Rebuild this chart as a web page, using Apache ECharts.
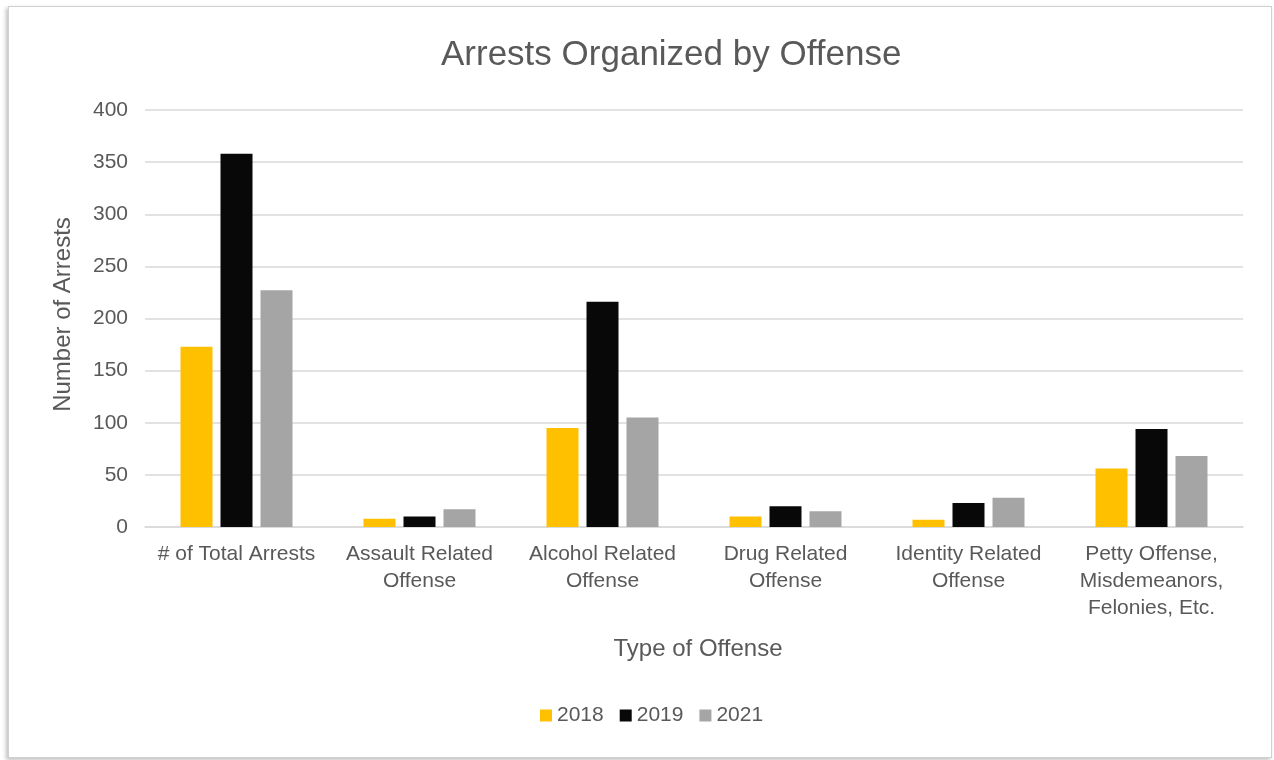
<!DOCTYPE html>
<html>
<head>
<meta charset="utf-8">
<script src="https://cdn.jsdelivr.net/npm/echarts@6/dist/echarts.min.js"></script>
<style>
  html, body { margin: 0; padding: 0; background: #ffffff; }
  #frame { position: absolute; left: 8px; top: 6px; width: 1262px; height: 750px; border: 1px solid #d0d0d0; box-shadow: -2px 2px 4px rgba(0,0,0,0.25); background: #fff; }
  #chart { position: absolute; left: 0; top: 0; width: 1274px; height: 760px; }
</style>
</head>
<body>
<div id="frame"></div>
<div id="chart"></div>
<script>
const categories = [
  '# of Total Arrests',
  'Assault Related\nOffense',
  'Alcohol Related\nOffense',
  'Drug Related\nOffense',
  'Identity Related\nOffense',
  'Petty Offense,\nMisdemeanors,\nFelonies, Etc.'
];
const seriesNames = ['2018', '2019', '2021'];
const values2018 = [173, 8, 95, 10, 7, 56];
const values2019 = [358, 10, 216, 20, 23, 94];
const values2021 = [227, 17, 105, 15, 28, 68];
const colors = ['#FFC000', '#080808', '#A5A5A5'];
const yTicks = { min: 0, max: 400, interval: 50 };

const chart = echarts.init(document.getElementById('chart'), null, { renderer: 'canvas' });
const font = 'Liberation Sans, Arial, Helvetica, sans-serif';
const textColor = '#595959';
const allValues = [values2018, values2019, values2021];

chart.setOption({
  backgroundColor: 'transparent',
  animation: false,
  textStyle: { fontFamily: font },
  title: {
    text: 'Arrests Organized by Offense',
    left: 441,
    top: 38,
    padding: 0,
    textStyle: { fontSize: 35, fontWeight: 'normal', color: textColor, fontFamily: font }
  },
  legend: {
    data: seriesNames,
    top: 700,
    left: 535,
    itemWidth: 12,
    itemHeight: 12,
    itemGap: 16,
    icon: 'rect',
    textStyle: { fontSize: 21, color: textColor, fontFamily: font }
  },
  grid: { left: 145, right: 31, top: 110, bottom: 233, containLabel: false },
  xAxis: {
    type: 'category',
    data: categories,
    name: 'Type of Offense',
    nameLocation: 'middle',
    nameGap: 110,
    nameTextStyle: { fontSize: 24, color: textColor, fontFamily: font, padding: [0, 0, 0, 8] },
    axisLine: { show: true, lineStyle: { color: '#d9d9d9', width: 1.5 } },
    axisTick: { show: false },
    axisLabel: { fontSize: 21, color: textColor, lineHeight: 27, margin: 14, interval: 0, fontFamily: font }
  },
  yAxis: {
    type: 'value',
    min: yTicks.min,
    max: yTicks.max,
    interval: yTicks.interval,
    name: 'Number of Arrests',
    nameLocation: 'middle',
    nameGap: 70,
    nameRotate: 90,
    nameTextStyle: { fontSize: 24, color: textColor, fontFamily: font, padding: [0, 0, 0, 8] },
    axisLine: { show: false },
    axisTick: { show: false },
    axisLabel: { fontSize: 21, color: textColor, margin: 17, fontFamily: font },
    splitLine: { lineStyle: { color: '#d9d9d9', width: 1.5 } }
  },
  series: seriesNames.map((name, i) => ({
    name: name,
    type: 'bar',
    data: allValues[i],
    barWidth: 32,
    barGap: '25%',
    itemStyle: { color: colors[i] }
  }))
});
</script>
</body>
</html>
